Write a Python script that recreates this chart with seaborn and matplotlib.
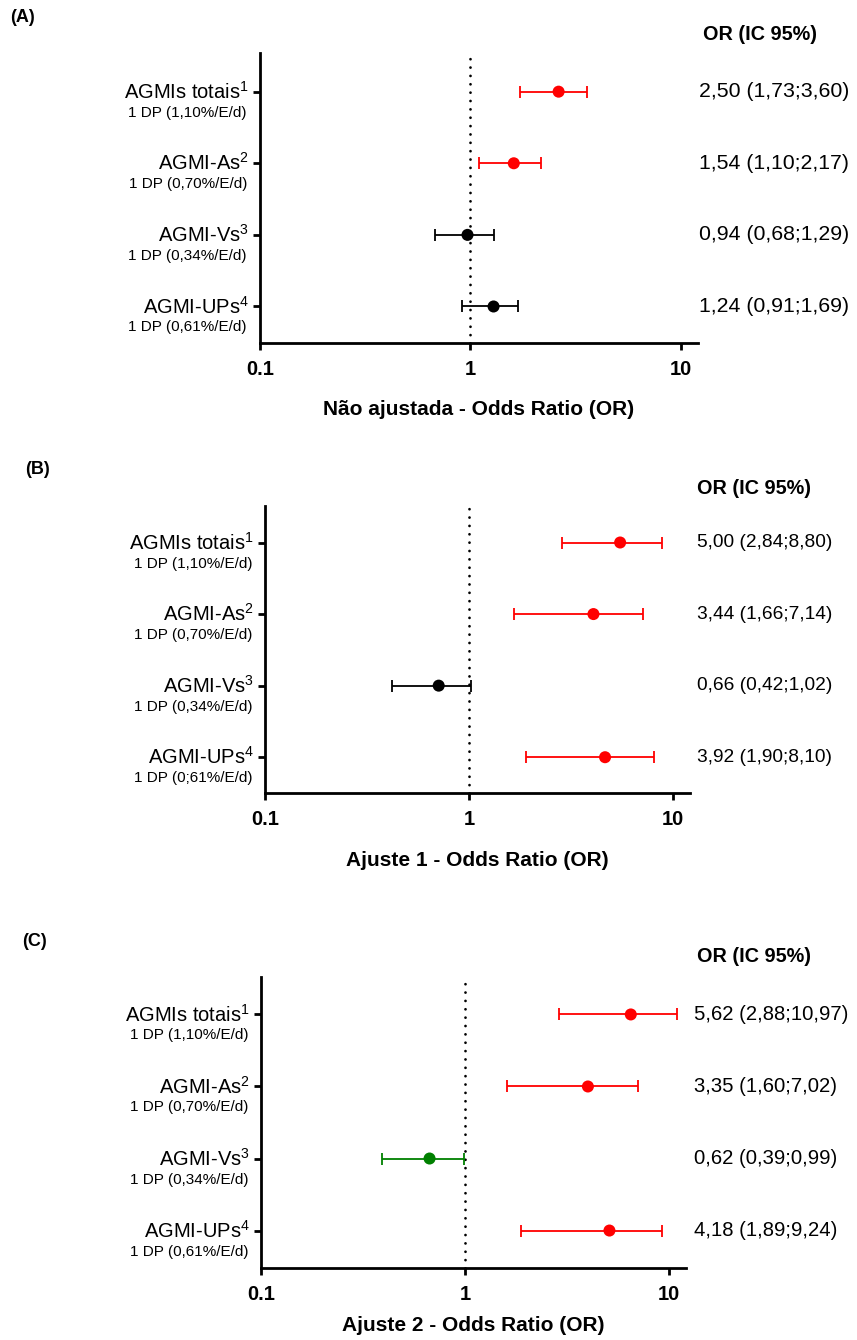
import numpy as np
import pandas as pd
import seaborn as sns
import matplotlib.pyplot as plt
from matplotlib.ticker import NullLocator

##################
### DATA       ###
##################
names = ['AGMIs totais', 'AGMI-As', 'AGMI-Vs', 'AGMI-UPs']
sups = ['1', '2', '3', '4']
dp_a = ['1 DP (1,10%/E/d)', '1 DP (0,70%/E/d)', '1 DP (0,34%/E/d)', '1 DP (0,61%/E/d)']
dp_b = ['1 DP (1,10%/E/d)', '1 DP (0,70%/E/d)', '1 DP (0,34%/E/d)', '1 DP (0;61%/E/d)']
dp_c = ['1 DP (1,10%/E/d)', '1 DP (0,70%/E/d)', '1 DP (0,34%/E/d)', '1 DP (0,61%/E/d)']

# (A) nao ajustada
or_a = [2.63, 1.61, 0.97, 1.29]
lo_a = [1.73, 1.10, 0.68, 0.91]
hi_a = [3.60, 2.17, 1.29, 1.69]
grp_a = ['pos', 'pos', 'ns', 'ns']
txt_a = ['2,50 (1,73;3,60)', '1,54 (1,10;2,17)', '0,94 (0,68;1,29)', '1,24 (0,91;1,69)']

# (B) ajuste 1
or_b = [5.50, 4.07, 0.71, 4.64]
lo_b = [2.84, 1.66, 0.42, 1.90]
hi_b = [8.80, 7.14, 1.02, 8.10]
grp_b = ['pos', 'pos', 'ns', 'pos']
txt_b = ['5,00 (2,84;8,80)', '3,44 (1,66;7,14)', '0,66 (0,42;1,02)', '3,92 (1,90;8,10)']

# (C) ajuste 2
or_c = [6.49, 4.00, 0.67, 5.10]
lo_c = [2.88, 1.60, 0.39, 1.89]
hi_c = [10.97, 7.02, 0.99, 9.24]
grp_c = ['pos', 'pos', 'neg', 'pos']
txt_c = ['5,62 (2,88;10,97)', '3,35 (1,60;7,02)', '0,62 (0,39;0,99)', '4,18 (1,89;9,24)']

xlabels = ['Não ajustada - Odds Ratio (OR)', 'Ajuste 1 - Odds Ratio (OR)', 'Ajuste 2 - Odds Ratio (OR)']
letters = ['(A)', '(B)', '(C)']
palette = {'pos': '#ff0000', 'ns': '#000000', 'neg': '#008000'}

##################
### STYLE      ###
##################
sns.set_style('ticks')
plt.rcParams['font.family'] = ['Liberation Sans', 'DejaVu Sans']
plt.rcParams['mathtext.fontset'] = 'custom'
plt.rcParams['mathtext.rm'] = 'Liberation Sans'
plt.rcParams['mathtext.it'] = 'Liberation Sans:italic'
plt.rcParams['mathtext.bf'] = 'Liberation Sans:bold'
for k in ['text.color', 'axes.labelcolor', 'xtick.color', 'ytick.color', 'axes.edgecolor']:
    plt.rcParams[k] = 'black'

W, H = 857, 1340
fig = plt.figure(figsize=(W / 100, H / 100), dpi=100)

# axes boxes in pixels: left, right, top, bottom
boxes = [(260, 698, 53, 343), (265, 690, 506, 793), (261, 686, 977, 1268)]
txt_dx = [1, 7, 8]
txt_size = [15.3, 13.8, 14.6]
xlab_pad = [15, 16, 9]
head_pos = [(703, 35), (697, 488), (697, 956)]
letter_pos = [(10, 18), (25, 470), (22, 942)]
ylims = [(3.51, -0.54), (3.50, -0.51), (3.52, -0.52)]

panels = [
    (or_a, lo_a, hi_a, grp_a, txt_a, dp_a),
    (or_b, lo_b, hi_b, grp_b, txt_b, dp_b),
    (or_c, lo_c, hi_c, grp_c, txt_c, dp_c),
]

for i, (orv, lo, hi, grp, txt, dp) in enumerate(panels):
    l, r, t, b = boxes[i]
    ax = fig.add_axes([l / W, 1 - b / H, (r - l) / W, (b - t) / H])
    df = pd.DataFrame({'row': np.arange(4), 'or': orv, 'lo': lo, 'hi': hi, 'grp': grp})

    ax.set_xscale('log')
    ax.axvline(1, color='black', lw=2, ls=(0, (0.01, 3)), dash_capstyle='round', zorder=1)

    for g, sub in df.groupby('grp'):
        ax.errorbar(sub['or'], sub['row'], xerr=[sub['or'] - sub['lo'], sub['hi'] - sub['or']],
                    fmt='none', ecolor=palette[g], elinewidth=1.3, capsize=4, capthick=1.3, zorder=2)
    sns.scatterplot(data=df, x='or', y='row', hue='grp', palette=palette, s=75,
                    edgecolor='none', legend=False, ax=ax, zorder=3)

    ax.set_xlim(0.1, 12.1)
    ax.set_ylim(*ylims[i])
    ax.set_xticks([0.1, 1, 10])
    ax.set_xticklabels(['0.1', '1', '10'], fontsize=14.5, fontweight='bold')
    ax.xaxis.set_minor_locator(NullLocator())
    ax.set_yticks(range(4))
    ax.set_yticklabels([])
    ax.tick_params(axis='both', length=5, width=2, pad=7)
    sns.despine(ax=ax)
    for s in ['left', 'bottom']:
        ax.spines[s].set_linewidth(2)
    ax.set_xlabel(xlabels[i], fontsize=15, fontweight='bold', labelpad=xlab_pad[i])
    ax.set_ylabel('')

    for k in range(4):
        ax.annotate(names[k] + '$^{' + sups[k] + '}$', xy=(0, k), xycoords=('axes fraction', 'data'),
                    xytext=(-11, 0), textcoords='offset pixels', ha='right', va='center', fontsize=14.5)
        ax.annotate(dp[k], xy=(0, k), xycoords=('axes fraction', 'data'),
                    xytext=(-13, -21), textcoords='offset pixels', ha='right', va='center', fontsize=11)
        ax.annotate(txt[k], xy=(1, k), xycoords=('axes fraction', 'data'),
                    xytext=(txt_dx[i], 0), textcoords='offset pixels', ha='left', va='center',
                    fontsize=txt_size[i], annotation_clip=False)

    hx, hy = head_pos[i]
    fig.text(hx / W, 1 - hy / H, 'OR (IC 95%)', ha='left', va='center', fontsize=14.3, fontweight='bold')
    lx, ly = letter_pos[i]
    fig.text(lx / W, 1 - ly / H, letters[i], ha='left', va='center', fontsize=13, fontweight='bold')

fig.savefig('out.png', dpi=100)
